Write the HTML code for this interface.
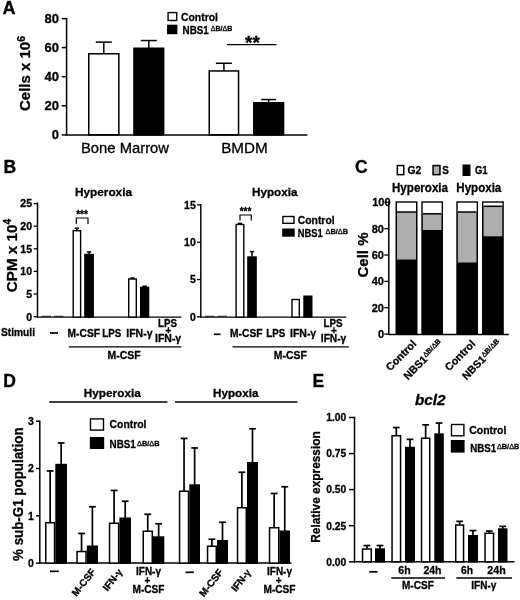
<!DOCTYPE html>
<html lang="en"><head><meta charset="utf-8"><title>Figure</title>
<style>
html,body{margin:0;padding:0;background:#fff;}
body{width:520px;height:600px;overflow:hidden;}
svg{display:block;font-family:"Liberation Sans", Arial, Helvetica, sans-serif;fill:#000;}
text{stroke:#000;stroke-width:0.3px;}
</style></head><body>
<svg width="520" height="600" viewBox="0 0 520 600">
<rect x="0" y="0" width="520" height="600" fill="#fff"/>
<text x="2.6" y="13.7" font-size="18" font-weight="bold">A</text>
<line x1="66.6" y1="17.9" x2="66.6" y2="135.6" stroke="#000" stroke-width="1.5"/>
<line x1="61.7" y1="18.6" x2="66.6" y2="18.6" stroke="#000" stroke-width="1.5"/>
<text x="59" y="23.1" font-size="13" font-weight="bold" text-anchor="end">80</text>
<line x1="61.7" y1="47.6" x2="66.6" y2="47.6" stroke="#000" stroke-width="1.5"/>
<text x="59" y="52.1" font-size="13" font-weight="bold" text-anchor="end">60</text>
<line x1="61.7" y1="76.7" x2="66.6" y2="76.7" stroke="#000" stroke-width="1.5"/>
<text x="59" y="81.2" font-size="13" font-weight="bold" text-anchor="end">40</text>
<line x1="61.7" y1="105.8" x2="66.6" y2="105.8" stroke="#000" stroke-width="1.5"/>
<text x="59" y="110.3" font-size="13" font-weight="bold" text-anchor="end">20</text>
<line x1="61.7" y1="134.9" x2="66.6" y2="134.9" stroke="#000" stroke-width="1.5"/>
<text x="59" y="139.4" font-size="13" font-weight="bold" text-anchor="end">0</text>
<text x="30.4" y="73.5" font-size="15" font-weight="bold" text-anchor="middle" transform="rotate(-90 30.4 73.5)">Cells x 10<tspan font-size="10.5" dy="-5.5">6</tspan></text>
<line x1="103.8" y1="53.5" x2="103.8" y2="42.15" stroke="#000" stroke-width="1.5"/>
<line x1="95.8" y1="42.15" x2="111.8" y2="42.15" stroke="#000" stroke-width="1.5"/>
<rect x="88.75" y="53.75" width="30.10" height="81.15" fill="#fff" stroke="#000" stroke-width="1.5"/>
<line x1="148.8" y1="48.0" x2="148.8" y2="40.55" stroke="#000" stroke-width="1.5"/>
<line x1="140.8" y1="40.55" x2="156.8" y2="40.55" stroke="#000" stroke-width="1.5"/>
<rect x="133.95" y="48.25" width="29.70" height="86.65" fill="#000" stroke="#000" stroke-width="1.5"/>
<line x1="223.9" y1="70.7" x2="223.9" y2="63.25" stroke="#000" stroke-width="1.5"/>
<line x1="215.9" y1="63.25" x2="231.9" y2="63.25" stroke="#000" stroke-width="1.5"/>
<rect x="209.25" y="70.95" width="29.30" height="63.95" fill="#fff" stroke="#000" stroke-width="1.5"/>
<line x1="268.65" y1="102.5" x2="268.65" y2="99.55" stroke="#000" stroke-width="1.5"/>
<line x1="261.15" y1="99.55" x2="276.15" y2="99.55" stroke="#000" stroke-width="1.5"/>
<rect x="253.75" y="102.75" width="29.80" height="32.15" fill="#000" stroke="#000" stroke-width="1.5"/>
<line x1="65.9" y1="134.9" x2="307.3" y2="134.9" stroke="#000" stroke-width="1.5"/>
<text x="81" y="153" font-size="14" textLength="88" lengthAdjust="spacingAndGlyphs">Bone Marrow</text>
<text x="221.2" y="153" font-size="14" textLength="46.5" lengthAdjust="spacingAndGlyphs">BMDM</text>
<line x1="227" y1="44.6" x2="276.5" y2="44.6" stroke="#000" stroke-width="1.4"/>
<text x="252.5" y="48.5" font-size="19" font-weight="bold" text-anchor="middle">**</text>
<rect x="168.10" y="12.60" width="8.60" height="7.90" fill="#fff" stroke="#000" stroke-width="1.4"/>
<rect x="167.70" y="25.40" width="9.00" height="8.10" fill="#000" stroke="#000" stroke-width="1.4"/>
<text x="181" y="21" font-size="11" font-weight="bold" textLength="37" lengthAdjust="spacingAndGlyphs">Control</text>
<text x="182.6" y="33.8" font-size="11" font-weight="bold" textLength="26.2" lengthAdjust="spacingAndGlyphs">NBS1</text>
<text x="210.8" y="31.099999999999998" font-size="7.3" font-weight="bold" textLength="21.4" lengthAdjust="spacingAndGlyphs"><tspan font-weight="normal">Δ</tspan>B/<tspan font-weight="normal">Δ</tspan>B</text>
<text x="3.6" y="172.7" font-size="17.5" font-weight="bold">B</text>
<text x="75" y="195.6" font-size="11.5" font-weight="bold" textLength="57" lengthAdjust="spacingAndGlyphs">Hyperoxia</text>
<text x="252" y="195.6" font-size="11.5" font-weight="bold" textLength="45.5" lengthAdjust="spacingAndGlyphs">Hypoxia</text>
<line x1="37.5" y1="202.5" x2="37.5" y2="317.5" stroke="#000" stroke-width="1.45"/>
<line x1="33.7" y1="203.6" x2="37.5" y2="203.6" stroke="#000" stroke-width="1.3"/>
<text x="32" y="207.29999999999998" font-size="10.5" font-weight="bold" text-anchor="end">25</text>
<line x1="33.7" y1="226.2" x2="37.5" y2="226.2" stroke="#000" stroke-width="1.3"/>
<text x="32" y="229.89999999999998" font-size="10.5" font-weight="bold" text-anchor="end">20</text>
<line x1="33.7" y1="248.8" x2="37.5" y2="248.8" stroke="#000" stroke-width="1.3"/>
<text x="32" y="252.5" font-size="10.5" font-weight="bold" text-anchor="end">15</text>
<line x1="33.7" y1="271.4" x2="37.5" y2="271.4" stroke="#000" stroke-width="1.3"/>
<text x="32" y="275.09999999999997" font-size="10.5" font-weight="bold" text-anchor="end">10</text>
<line x1="33.7" y1="294" x2="37.5" y2="294" stroke="#000" stroke-width="1.3"/>
<text x="32" y="297.7" font-size="10.5" font-weight="bold" text-anchor="end">5</text>
<line x1="33.7" y1="316.8" x2="37.5" y2="316.8" stroke="#000" stroke-width="1.3"/>
<text x="32" y="320.5" font-size="10.5" font-weight="bold" text-anchor="end">0</text>
<text x="16.6" y="255.6" font-size="15.2" font-weight="bold" text-anchor="middle" transform="rotate(-90 16.6 255.6)">CPM x 10<tspan font-size="10" dy="-5.5">4</tspan></text>
<line x1="36.8" y1="317.1" x2="181.3" y2="317.1" stroke="#000" stroke-width="1.45"/>
<line x1="76.9" y1="230.5" x2="76.9" y2="228.25" stroke="#000" stroke-width="1.5"/>
<line x1="74.7" y1="228.25" x2="79.10000000000001" y2="228.25" stroke="#000" stroke-width="1.5"/>
<rect x="73.20" y="230.70" width="7.40" height="86.40" fill="#fff" stroke="#000" stroke-width="1.4"/>
<line x1="89.05000000000001" y1="254.3" x2="89.05000000000001" y2="251.95" stroke="#000" stroke-width="1.5"/>
<line x1="86.85000000000001" y1="251.95" x2="91.25000000000001" y2="251.95" stroke="#000" stroke-width="1.5"/>
<rect x="84.90" y="254.50" width="8.30" height="62.60" fill="#000" stroke="#000" stroke-width="1.4"/>
<line x1="132.5" y1="278.8" x2="132.5" y2="278.05" stroke="#000" stroke-width="1.5"/>
<line x1="130.3" y1="278.05" x2="134.7" y2="278.05" stroke="#000" stroke-width="1.5"/>
<rect x="128.70" y="279.00" width="7.60" height="38.10" fill="#fff" stroke="#000" stroke-width="1.4"/>
<line x1="144.65" y1="287.2" x2="144.65" y2="286.25" stroke="#000" stroke-width="1.5"/>
<line x1="142.45000000000002" y1="286.25" x2="146.85" y2="286.25" stroke="#000" stroke-width="1.5"/>
<rect x="140.70" y="287.40" width="7.90" height="29.70" fill="#000" stroke="#000" stroke-width="1.4"/>
<rect x="41.5" y="315.8" width="9.5" height="0.8" fill="#000"/>
<rect x="54" y="315.8" width="9.5" height="0.8" fill="#000"/>
<rect x="205" y="315.8" width="9.5" height="0.8" fill="#000"/>
<rect x="217.5" y="315.8" width="9.5" height="0.8" fill="#000"/>
<path d="M76.3 224 V218 H88 V224" fill="none" stroke="#000" stroke-width="1.2"/>
<text x="82" y="217.7" font-size="10" font-weight="bold" text-anchor="middle">***</text>
<text x="1" y="335.8" font-size="11" font-weight="bold" textLength="34" lengthAdjust="spacingAndGlyphs">Stimuli</text>
<line x1="50" y1="333" x2="58" y2="333" stroke="#000" stroke-width="1.7"/>
<text x="67.5" y="336.6" font-size="11" font-weight="bold" textLength="32.5" lengthAdjust="spacingAndGlyphs">M-CSF</text>
<text x="102.3" y="336.6" font-size="11" font-weight="bold" textLength="19" lengthAdjust="spacingAndGlyphs">LPS</text>
<text x="126.3" y="336.6" font-size="11" font-weight="bold" textLength="26.2" lengthAdjust="spacingAndGlyphs">IFN-γ</text>
<text x="158" y="326.7" font-size="10.5" font-weight="bold" textLength="19" lengthAdjust="spacingAndGlyphs">LPS</text>
<text x="168.3" y="334.2" font-size="10" font-weight="bold" text-anchor="middle">+</text>
<text x="155" y="341.9" font-size="10.5" font-weight="bold" textLength="26.2" lengthAdjust="spacingAndGlyphs">IFN-γ</text>
<line x1="68.8" y1="346.9" x2="181.3" y2="346.9" stroke="#000" stroke-width="1.4"/>
<text x="107.5" y="358.8" font-size="11" font-weight="bold" textLength="33" lengthAdjust="spacingAndGlyphs">M-CSF</text>
<line x1="200.8" y1="203.9" x2="200.8" y2="317.5" stroke="#000" stroke-width="1.45"/>
<line x1="197" y1="204.9" x2="200.8" y2="204.9" stroke="#000" stroke-width="1.3"/>
<text x="195.8" y="208.6" font-size="10.5" font-weight="bold" text-anchor="end">15</text>
<line x1="197" y1="242.2" x2="200.8" y2="242.2" stroke="#000" stroke-width="1.3"/>
<text x="195.8" y="245.89999999999998" font-size="10.5" font-weight="bold" text-anchor="end">10</text>
<line x1="197" y1="279.5" x2="200.8" y2="279.5" stroke="#000" stroke-width="1.3"/>
<text x="195.8" y="283.2" font-size="10.5" font-weight="bold" text-anchor="end">5</text>
<line x1="197" y1="316.8" x2="200.8" y2="316.8" stroke="#000" stroke-width="1.3"/>
<text x="195.8" y="320.5" font-size="10.5" font-weight="bold" text-anchor="end">0</text>
<line x1="200.1" y1="317.1" x2="346.3" y2="317.1" stroke="#000" stroke-width="1.45"/>
<line x1="239.95" y1="224.3" x2="239.95" y2="223.35" stroke="#000" stroke-width="1.5"/>
<line x1="237.75" y1="223.35" x2="242.14999999999998" y2="223.35" stroke="#000" stroke-width="1.5"/>
<rect x="236.10" y="224.50" width="7.70" height="92.60" fill="#fff" stroke="#000" stroke-width="1.4"/>
<line x1="252.0" y1="256.8" x2="252.0" y2="251.55" stroke="#000" stroke-width="1.5"/>
<line x1="249.8" y1="251.55" x2="254.2" y2="251.55" stroke="#000" stroke-width="1.5"/>
<rect x="247.90" y="257.00" width="8.20" height="60.10" fill="#000" stroke="#000" stroke-width="1.4"/>
<rect x="292.00" y="299.50" width="7.30" height="17.60" fill="#fff" stroke="#000" stroke-width="1.4"/>
<rect x="304.00" y="296.20" width="7.80" height="20.90" fill="#000" stroke="#000" stroke-width="1.4"/>
<path d="M240 220.5 V215 H251.3 V220.5" fill="none" stroke="#000" stroke-width="1.2"/>
<text x="245.5" y="214.7" font-size="10" font-weight="bold" text-anchor="middle">***</text>
<line x1="213.8" y1="334.3" x2="220.5" y2="334.3" stroke="#000" stroke-width="1.7"/>
<text x="230" y="336.6" font-size="11" font-weight="bold" textLength="32.5" lengthAdjust="spacingAndGlyphs">M-CSF</text>
<text x="266.3" y="336.6" font-size="11" font-weight="bold" textLength="19" lengthAdjust="spacingAndGlyphs">LPS</text>
<text x="290" y="336.6" font-size="11" font-weight="bold" textLength="26.2" lengthAdjust="spacingAndGlyphs">IFN-γ</text>
<text x="323.5" y="326.7" font-size="10.5" font-weight="bold" textLength="19" lengthAdjust="spacingAndGlyphs">LPS</text>
<text x="333.8" y="334.2" font-size="10" font-weight="bold" text-anchor="middle">+</text>
<text x="320.8" y="341.9" font-size="10.5" font-weight="bold" textLength="25.5" lengthAdjust="spacingAndGlyphs">IFN-γ</text>
<line x1="232.5" y1="346.9" x2="348.8" y2="346.9" stroke="#000" stroke-width="1.4"/>
<text x="273.8" y="358.8" font-size="11" font-weight="bold" textLength="33" lengthAdjust="spacingAndGlyphs">M-CSF</text>
<rect x="282.90" y="216.50" width="11.10" height="6.80" fill="#fff" stroke="#000" stroke-width="1.4"/>
<rect x="282.90" y="229.20" width="11.10" height="6.80" fill="#000" stroke="#000" stroke-width="1.4"/>
<text x="297.8" y="223.7" font-size="11" font-weight="bold" textLength="36.8" lengthAdjust="spacingAndGlyphs">Control</text>
<text x="297.8" y="236.5" font-size="11" font-weight="bold" textLength="25" lengthAdjust="spacingAndGlyphs">NBS1</text>
<text x="325.5" y="233.8" font-size="7.3" font-weight="bold" textLength="22.6" lengthAdjust="spacingAndGlyphs"><tspan font-weight="normal">Δ</tspan>B/<tspan font-weight="normal">Δ</tspan>B</text>
<text x="355" y="172.7" font-size="17.5" font-weight="bold">C</text>
<rect x="397.35" y="165.55" width="6.40" height="9.10" fill="#fff" stroke="#000" stroke-width="1.5"/>
<text x="407.5" y="174" font-size="11" font-weight="bold" textLength="13.8" lengthAdjust="spacingAndGlyphs">G2</text>
<rect x="433.05" y="165.55" width="6.90" height="9.10" fill="#aeaeae" stroke="#000" stroke-width="1.5"/>
<text x="442.3" y="174" font-size="11" font-weight="bold" textLength="6.6" lengthAdjust="spacingAndGlyphs">S</text>
<rect x="463.10" y="165.10" width="6.80" height="10.30" fill="#000" stroke="#000" stroke-width="1.2"/>
<text x="475" y="174" font-size="11" font-weight="bold" textLength="12.6" lengthAdjust="spacingAndGlyphs">G1</text>
<text x="392" y="192.1" font-size="12.2" font-weight="bold" textLength="56" lengthAdjust="spacingAndGlyphs">Hyperoxia</text>
<text x="456.3" y="192.1" font-size="12.2" font-weight="bold" textLength="45" lengthAdjust="spacingAndGlyphs">Hypoxia</text>
<rect x="396.25" y="202.05" width="20.5" height="131.95" fill="#000" stroke="#000" stroke-width="1.5"/>
<rect x="397.0" y="202.8" width="19.0" height="56.69999999999999" fill="#aeaeae"/>
<rect x="397.0" y="202.8" width="19.0" height="9.199999999999989" fill="#fff"/>
<line x1="397.0" y1="212" x2="416.0" y2="212" stroke="#000" stroke-width="1.5"/>
<rect x="422.05" y="202.05" width="20.19999999999999" height="131.95" fill="#000" stroke="#000" stroke-width="1.5"/>
<rect x="422.8" y="202.8" width="18.69999999999999" height="27.19999999999999" fill="#aeaeae"/>
<rect x="422.8" y="202.8" width="18.69999999999999" height="11.0" fill="#fff"/>
<line x1="422.8" y1="213.8" x2="441.5" y2="213.8" stroke="#000" stroke-width="1.5"/>
<rect x="457.05" y="202.05" width="20.19999999999999" height="131.95" fill="#000" stroke="#000" stroke-width="1.5"/>
<rect x="457.8" y="202.8" width="18.69999999999999" height="59.69999999999999" fill="#aeaeae"/>
<rect x="457.8" y="202.8" width="18.69999999999999" height="9.199999999999989" fill="#fff"/>
<line x1="457.8" y1="212" x2="476.5" y2="212" stroke="#000" stroke-width="1.5"/>
<rect x="482.75" y="202.05" width="20.30000000000001" height="131.95" fill="#000" stroke="#000" stroke-width="1.5"/>
<rect x="483.5" y="202.8" width="18.80000000000001" height="33.5" fill="#aeaeae"/>
<rect x="483.5" y="202.8" width="18.80000000000001" height="3.5" fill="#fff"/>
<line x1="483.5" y1="206.3" x2="502.3" y2="206.3" stroke="#000" stroke-width="1.5"/>
<line x1="388.8" y1="201.5" x2="388.8" y2="335.1" stroke="#000" stroke-width="1.5"/>
<line x1="384.3" y1="202.3" x2="388.8" y2="202.3" stroke="#000" stroke-width="1.3"/>
<text x="390.5" y="206.20000000000002" font-size="11" font-weight="bold" text-anchor="end">100</text>
<line x1="384.3" y1="228.7" x2="388.8" y2="228.7" stroke="#000" stroke-width="1.3"/>
<text x="384" y="232.6" font-size="11" font-weight="bold" text-anchor="end">80</text>
<line x1="384.3" y1="255" x2="388.8" y2="255" stroke="#000" stroke-width="1.3"/>
<text x="384" y="258.9" font-size="11" font-weight="bold" text-anchor="end">60</text>
<line x1="384.3" y1="281.4" x2="388.8" y2="281.4" stroke="#000" stroke-width="1.3"/>
<text x="384" y="285.29999999999995" font-size="11" font-weight="bold" text-anchor="end">40</text>
<line x1="384.3" y1="307.7" x2="388.8" y2="307.7" stroke="#000" stroke-width="1.3"/>
<text x="384" y="311.59999999999997" font-size="11" font-weight="bold" text-anchor="end">20</text>
<line x1="384.3" y1="334.1" x2="388.8" y2="334.1" stroke="#000" stroke-width="1.3"/>
<text x="384" y="338.0" font-size="11" font-weight="bold" text-anchor="end">0</text>
<line x1="388.2" y1="334.4" x2="508.8" y2="334.4" stroke="#000" stroke-width="1.5"/>
<text x="368.4" y="255" font-size="15" font-weight="bold" text-anchor="middle" textLength="45" lengthAdjust="spacingAndGlyphs" transform="rotate(-90 368.4 255)">Cell %</text>
<text x="417" y="344.5" font-size="10.7" font-weight="bold" text-anchor="end" transform="rotate(-45.5 417 344.5)">Control</text>
<text x="443.6" y="344.1" font-size="10.7" font-weight="bold" text-anchor="end" transform="rotate(-45.5 443.6 344.1)">NBS1<tspan font-size="7.3" dy="-3.2"><tspan font-weight="normal">Δ</tspan>B/<tspan font-weight="normal">Δ</tspan>B</tspan></text>
<text x="476" y="344.5" font-size="10.7" font-weight="bold" text-anchor="end" transform="rotate(-45.5 476 344.5)">Control</text>
<text x="502.1" y="344.1" font-size="10.7" font-weight="bold" text-anchor="end" transform="rotate(-45.5 502.1 344.1)">NBS1<tspan font-size="7.3" dy="-3.2"><tspan font-weight="normal">Δ</tspan>B/<tspan font-weight="normal">Δ</tspan>B</tspan></text>
<text x="3.2" y="386.5" font-size="17.5" font-weight="bold">D</text>
<text x="83.8" y="397" font-size="11.5" font-weight="bold" textLength="57" lengthAdjust="spacingAndGlyphs">Hyperoxia</text>
<text x="213" y="397" font-size="11.5" font-weight="bold" textLength="45.5" lengthAdjust="spacingAndGlyphs">Hypoxia</text>
<line x1="49.3" y1="402" x2="167.5" y2="402" stroke="#000" stroke-width="1.5"/>
<line x1="175" y1="402" x2="297.5" y2="402" stroke="#000" stroke-width="1.5"/>
<line x1="39.8" y1="420.5" x2="39.8" y2="563.9" stroke="#000" stroke-width="1.5"/>
<line x1="36" y1="421.2" x2="39.8" y2="421.2" stroke="#000" stroke-width="1.5"/>
<text x="33.8" y="425.0" font-size="10.5" font-weight="bold" text-anchor="end">3</text>
<line x1="36" y1="468.5" x2="39.8" y2="468.5" stroke="#000" stroke-width="1.5"/>
<text x="33.8" y="472.3" font-size="10.5" font-weight="bold" text-anchor="end">2</text>
<line x1="36" y1="515.8" x2="39.8" y2="515.8" stroke="#000" stroke-width="1.5"/>
<text x="33.8" y="519.5999999999999" font-size="10.5" font-weight="bold" text-anchor="end">1</text>
<line x1="36" y1="563.1" x2="39.8" y2="563.1" stroke="#000" stroke-width="1.5"/>
<text x="33.8" y="566.9" font-size="10.5" font-weight="bold" text-anchor="end">0</text>
<line x1="39.1" y1="563.1" x2="291.5" y2="563.1" stroke="#000" stroke-width="1.5"/>
<text x="22.9" y="494.2" font-size="14.5" font-weight="bold" text-anchor="middle" textLength="133.5" lengthAdjust="spacingAndGlyphs" transform="rotate(-90 22.9 494.2)">% sub-G1 population</text>
<line x1="50.15" y1="522.5" x2="50.15" y2="470.95000000000005" stroke="#000" stroke-width="1.7"/>
<line x1="46.75" y1="470.95000000000005" x2="53.55" y2="470.95000000000005" stroke="#000" stroke-width="1.7"/>
<rect x="45.75" y="522.75" width="8.80" height="40.35" fill="#fff" stroke="#000" stroke-width="1.5"/>
<line x1="61.15" y1="464.3" x2="61.15" y2="442.95000000000005" stroke="#000" stroke-width="1.7"/>
<line x1="57.75" y1="442.95000000000005" x2="64.55" y2="442.95000000000005" stroke="#000" stroke-width="1.7"/>
<rect x="56.05" y="464.55" width="10.20" height="98.55" fill="#000" stroke="#000" stroke-width="1.5"/>
<line x1="81.55" y1="551.3" x2="81.55" y2="533.45" stroke="#000" stroke-width="1.7"/>
<line x1="78.14999999999999" y1="533.45" x2="84.95" y2="533.45" stroke="#000" stroke-width="1.7"/>
<rect x="77.05" y="551.55" width="9.00" height="11.55" fill="#fff" stroke="#000" stroke-width="1.5"/>
<line x1="92.4" y1="546.0" x2="92.4" y2="506.75000000000006" stroke="#000" stroke-width="1.7"/>
<line x1="89.0" y1="506.75000000000006" x2="95.80000000000001" y2="506.75000000000006" stroke="#000" stroke-width="1.7"/>
<rect x="87.55" y="546.25" width="9.70" height="16.85" fill="#000" stroke="#000" stroke-width="1.5"/>
<line x1="114.1" y1="523.0" x2="114.1" y2="490.45000000000005" stroke="#000" stroke-width="1.7"/>
<line x1="110.69999999999999" y1="490.45000000000005" x2="117.5" y2="490.45000000000005" stroke="#000" stroke-width="1.7"/>
<rect x="109.55" y="523.25" width="9.10" height="39.85" fill="#fff" stroke="#000" stroke-width="1.5"/>
<line x1="125.2" y1="518.0" x2="125.2" y2="501.25000000000006" stroke="#000" stroke-width="1.7"/>
<line x1="121.8" y1="501.25000000000006" x2="128.6" y2="501.25000000000006" stroke="#000" stroke-width="1.7"/>
<rect x="120.15" y="518.25" width="10.10" height="44.85" fill="#000" stroke="#000" stroke-width="1.5"/>
<line x1="147.75" y1="531.0" x2="147.75" y2="514.25" stroke="#000" stroke-width="1.7"/>
<line x1="144.35" y1="514.25" x2="151.15" y2="514.25" stroke="#000" stroke-width="1.7"/>
<rect x="143.25" y="531.25" width="9.00" height="31.85" fill="#fff" stroke="#000" stroke-width="1.5"/>
<line x1="158.65" y1="536.8" x2="158.65" y2="523.75" stroke="#000" stroke-width="1.7"/>
<line x1="155.25" y1="523.75" x2="162.05" y2="523.75" stroke="#000" stroke-width="1.7"/>
<rect x="153.75" y="537.05" width="9.80" height="26.05" fill="#000" stroke="#000" stroke-width="1.5"/>
<line x1="184.05" y1="491.0" x2="184.05" y2="438.45000000000005" stroke="#000" stroke-width="1.7"/>
<line x1="180.65" y1="438.45000000000005" x2="187.45000000000002" y2="438.45000000000005" stroke="#000" stroke-width="1.7"/>
<rect x="179.55" y="491.25" width="9.00" height="71.85" fill="#fff" stroke="#000" stroke-width="1.5"/>
<line x1="194.65" y1="484.8" x2="194.65" y2="447.95000000000005" stroke="#000" stroke-width="1.7"/>
<line x1="191.25" y1="447.95000000000005" x2="198.05" y2="447.95000000000005" stroke="#000" stroke-width="1.7"/>
<rect x="190.05" y="485.05" width="9.20" height="78.05" fill="#000" stroke="#000" stroke-width="1.5"/>
<line x1="211.9" y1="546.0" x2="211.9" y2="539.25" stroke="#000" stroke-width="1.7"/>
<line x1="208.5" y1="539.25" x2="215.3" y2="539.25" stroke="#000" stroke-width="1.7"/>
<rect x="207.55" y="546.25" width="8.70" height="16.85" fill="#fff" stroke="#000" stroke-width="1.5"/>
<line x1="222.5" y1="540.5" x2="222.5" y2="522.25" stroke="#000" stroke-width="1.7"/>
<line x1="219.1" y1="522.25" x2="225.9" y2="522.25" stroke="#000" stroke-width="1.7"/>
<rect x="217.75" y="540.75" width="9.50" height="22.35" fill="#000" stroke="#000" stroke-width="1.5"/>
<line x1="241.9" y1="507.5" x2="241.9" y2="472.25000000000006" stroke="#000" stroke-width="1.7"/>
<line x1="238.5" y1="472.25000000000006" x2="245.3" y2="472.25000000000006" stroke="#000" stroke-width="1.7"/>
<rect x="237.55" y="507.75" width="8.70" height="55.35" fill="#fff" stroke="#000" stroke-width="1.5"/>
<line x1="252.5" y1="462.5" x2="252.5" y2="428.75000000000006" stroke="#000" stroke-width="1.7"/>
<line x1="249.1" y1="428.75000000000006" x2="255.9" y2="428.75000000000006" stroke="#000" stroke-width="1.7"/>
<rect x="247.75" y="462.75" width="9.50" height="100.35" fill="#000" stroke="#000" stroke-width="1.5"/>
<line x1="274.15" y1="527.5" x2="274.15" y2="493.45000000000005" stroke="#000" stroke-width="1.7"/>
<line x1="270.75" y1="493.45000000000005" x2="277.54999999999995" y2="493.45000000000005" stroke="#000" stroke-width="1.7"/>
<rect x="269.55" y="527.75" width="9.20" height="35.35" fill="#fff" stroke="#000" stroke-width="1.5"/>
<line x1="284.75" y1="531.0" x2="284.75" y2="486.75000000000006" stroke="#000" stroke-width="1.7"/>
<line x1="281.35" y1="486.75000000000006" x2="288.15" y2="486.75000000000006" stroke="#000" stroke-width="1.7"/>
<rect x="280.25" y="531.25" width="9.00" height="31.85" fill="#000" stroke="#000" stroke-width="1.5"/>
<rect x="90.50" y="418.90" width="13.00" height="11.20" fill="#fff" stroke="#000" stroke-width="1.4"/>
<rect x="90.50" y="437.70" width="13.00" height="10.60" fill="#000" stroke="#000" stroke-width="1.4"/>
<text x="109.6" y="428.1" font-size="11" font-weight="bold" textLength="36.8" lengthAdjust="spacingAndGlyphs">Control</text>
<text x="109.6" y="448.4" font-size="11" font-weight="bold" textLength="26.2" lengthAdjust="spacingAndGlyphs">NBS1</text>
<text x="137" y="445.7" font-size="7.3" font-weight="bold" textLength="22.6" lengthAdjust="spacingAndGlyphs"><tspan font-weight="normal">Δ</tspan>B/<tspan font-weight="normal">Δ</tspan>B</text>
<line x1="50" y1="571.3" x2="58.8" y2="571.3" stroke="#000" stroke-width="1.7"/>
<line x1="185.5" y1="572.3" x2="193.8" y2="572.3" stroke="#000" stroke-width="1.7"/>
<text x="96" y="572" font-size="10" font-weight="bold" text-anchor="end" transform="rotate(-52 96 572)">M-CSF</text>
<text x="123" y="572" font-size="10" font-weight="bold" text-anchor="end" transform="rotate(-52 123 572)">IFN-γ</text>
<text x="223.5" y="572.5" font-size="10" font-weight="bold" text-anchor="end" transform="rotate(-52 223.5 572.5)">M-CSF</text>
<text x="251.5" y="572.5" font-size="10" font-weight="bold" text-anchor="end" transform="rotate(-52 251.5 572.5)">IFN-γ</text>
<text x="136" y="575.2" font-size="10.5" font-weight="bold" textLength="25" lengthAdjust="spacingAndGlyphs">IFN-γ</text>
<text x="147.5" y="584" font-size="10" font-weight="bold" text-anchor="middle">+</text>
<text x="132.5" y="593" font-size="10.5" font-weight="bold" textLength="32" lengthAdjust="spacingAndGlyphs">M-CSF</text>
<text x="267" y="575.2" font-size="10.5" font-weight="bold" textLength="25" lengthAdjust="spacingAndGlyphs">IFN-γ</text>
<text x="278.7" y="584" font-size="10" font-weight="bold" text-anchor="middle">+</text>
<text x="263.5" y="593" font-size="10.5" font-weight="bold" textLength="32" lengthAdjust="spacingAndGlyphs">M-CSF</text>
<text x="312.6" y="386.5" font-size="17.5" font-weight="bold">E</text>
<text x="415" y="405" font-size="14" font-weight="bold" font-style="italic" textLength="30.5" lengthAdjust="spacingAndGlyphs">bcl2</text>
<line x1="354.5" y1="416.8" x2="354.5" y2="562.6" stroke="#000" stroke-width="1.5"/>
<line x1="349" y1="417.5" x2="354.5" y2="417.5" stroke="#000" stroke-width="1.5"/>
<text x="346.3" y="421.3" font-size="10.5" font-weight="bold" text-anchor="end" textLength="20" lengthAdjust="spacingAndGlyphs">1.00</text>
<line x1="349" y1="453.6" x2="354.5" y2="453.6" stroke="#000" stroke-width="1.5"/>
<text x="346.3" y="457.40000000000003" font-size="10.5" font-weight="bold" text-anchor="end" textLength="20" lengthAdjust="spacingAndGlyphs">0.75</text>
<line x1="349" y1="489.6" x2="354.5" y2="489.6" stroke="#000" stroke-width="1.5"/>
<text x="346.3" y="493.40000000000003" font-size="10.5" font-weight="bold" text-anchor="end" textLength="20" lengthAdjust="spacingAndGlyphs">0.50</text>
<line x1="349" y1="525.7" x2="354.5" y2="525.7" stroke="#000" stroke-width="1.5"/>
<text x="346.3" y="529.5" font-size="10.5" font-weight="bold" text-anchor="end" textLength="20" lengthAdjust="spacingAndGlyphs">0.25</text>
<line x1="349" y1="561.8" x2="354.5" y2="561.8" stroke="#000" stroke-width="1.5"/>
<text x="346.3" y="565.5999999999999" font-size="10.5" font-weight="bold" text-anchor="end" textLength="20" lengthAdjust="spacingAndGlyphs">0.00</text>
<line x1="353.8" y1="561.8" x2="514.5" y2="561.8" stroke="#000" stroke-width="1.5"/>
<text x="319.5" y="487" font-size="12" font-weight="bold" text-anchor="middle" textLength="111.5" lengthAdjust="spacingAndGlyphs" transform="rotate(-90 319.5 487)">Relative expression</text>
<line x1="366.9" y1="548.8" x2="366.9" y2="545.5500000000001" stroke="#000" stroke-width="1.7"/>
<line x1="363.5" y1="545.5500000000001" x2="370.29999999999995" y2="545.5500000000001" stroke="#000" stroke-width="1.7"/>
<rect x="362.55" y="549.05" width="8.70" height="12.75" fill="#fff" stroke="#000" stroke-width="1.5"/>
<line x1="380.0" y1="548.8" x2="380.0" y2="545.5500000000001" stroke="#000" stroke-width="1.7"/>
<line x1="376.6" y1="545.5500000000001" x2="383.4" y2="545.5500000000001" stroke="#000" stroke-width="1.7"/>
<rect x="375.75" y="549.05" width="8.50" height="12.75" fill="#000" stroke="#000" stroke-width="1.5"/>
<line x1="396.3" y1="435.5" x2="396.3" y2="427.55" stroke="#000" stroke-width="1.7"/>
<line x1="392.90000000000003" y1="427.55" x2="399.7" y2="427.55" stroke="#000" stroke-width="1.7"/>
<rect x="392.05" y="435.75" width="8.50" height="126.05" fill="#fff" stroke="#000" stroke-width="1.5"/>
<line x1="410.0" y1="447.3" x2="410.0" y2="439.35" stroke="#000" stroke-width="1.7"/>
<line x1="406.6" y1="439.35" x2="413.4" y2="439.35" stroke="#000" stroke-width="1.7"/>
<rect x="405.75" y="447.55" width="8.50" height="114.25" fill="#000" stroke="#000" stroke-width="1.5"/>
<line x1="425.65" y1="438.0" x2="425.65" y2="424.85" stroke="#000" stroke-width="1.7"/>
<line x1="422.25" y1="424.85" x2="429.04999999999995" y2="424.85" stroke="#000" stroke-width="1.7"/>
<rect x="421.55" y="438.25" width="8.20" height="123.55" fill="#fff" stroke="#000" stroke-width="1.5"/>
<line x1="439.05" y1="433.8" x2="439.05" y2="423.05" stroke="#000" stroke-width="1.7"/>
<line x1="435.65000000000003" y1="423.05" x2="442.45" y2="423.05" stroke="#000" stroke-width="1.7"/>
<rect x="435.05" y="434.05" width="8.00" height="127.75" fill="#000" stroke="#000" stroke-width="1.5"/>
<line x1="459.65" y1="524.8" x2="459.65" y2="521.35" stroke="#000" stroke-width="1.7"/>
<line x1="456.25" y1="521.35" x2="463.04999999999995" y2="521.35" stroke="#000" stroke-width="1.7"/>
<rect x="455.75" y="525.05" width="7.80" height="36.75" fill="#fff" stroke="#000" stroke-width="1.5"/>
<line x1="473.0" y1="535.5" x2="473.0" y2="530.5500000000001" stroke="#000" stroke-width="1.7"/>
<line x1="469.6" y1="530.5500000000001" x2="476.4" y2="530.5500000000001" stroke="#000" stroke-width="1.7"/>
<rect x="468.75" y="535.75" width="8.50" height="26.05" fill="#000" stroke="#000" stroke-width="1.5"/>
<line x1="489.3" y1="533.0" x2="489.3" y2="531.0500000000001" stroke="#000" stroke-width="1.7"/>
<line x1="485.90000000000003" y1="531.0500000000001" x2="492.7" y2="531.0500000000001" stroke="#000" stroke-width="1.7"/>
<rect x="485.05" y="533.25" width="8.50" height="28.55" fill="#fff" stroke="#000" stroke-width="1.5"/>
<line x1="502.75" y1="528.8" x2="502.75" y2="526.35" stroke="#000" stroke-width="1.7"/>
<line x1="499.35" y1="526.35" x2="506.15" y2="526.35" stroke="#000" stroke-width="1.7"/>
<rect x="498.75" y="529.05" width="8.00" height="32.75" fill="#000" stroke="#000" stroke-width="1.5"/>
<rect x="451.50" y="424.50" width="12.40" height="11.30" fill="#fff" stroke="#000" stroke-width="1.4"/>
<rect x="451.50" y="440.70" width="12.40" height="11.20" fill="#000" stroke="#000" stroke-width="1.4"/>
<text x="469.2" y="433.5" font-size="11.5" font-weight="bold" textLength="37.2" lengthAdjust="spacingAndGlyphs">Control</text>
<text x="470.3" y="451.8" font-size="11.5" font-weight="bold" textLength="26" lengthAdjust="spacingAndGlyphs">NBS1</text>
<text x="497" y="449.1" font-size="7.3" font-weight="bold" textLength="22.3" lengthAdjust="spacingAndGlyphs"><tspan font-weight="normal">Δ</tspan>B/<tspan font-weight="normal">Δ</tspan>B</text>
<line x1="369.3" y1="571.8" x2="377.5" y2="571.8" stroke="#000" stroke-width="1.7"/>
<text x="398.3" y="574.4" font-size="11.5" font-weight="bold" textLength="12.3" lengthAdjust="spacingAndGlyphs">6h</text>
<text x="423.5" y="574.4" font-size="11.5" font-weight="bold" textLength="18" lengthAdjust="spacingAndGlyphs">24h</text>
<text x="461" y="574.4" font-size="11.5" font-weight="bold" textLength="12" lengthAdjust="spacingAndGlyphs">6h</text>
<text x="487.3" y="574.4" font-size="11.5" font-weight="bold" textLength="18.4" lengthAdjust="spacingAndGlyphs">24h</text>
<line x1="391.3" y1="578" x2="445" y2="578" stroke="#000" stroke-width="1.4"/>
<line x1="456.3" y1="578" x2="512" y2="578" stroke="#000" stroke-width="1.4"/>
<text x="402" y="589.3" font-size="11" font-weight="bold" textLength="31.8" lengthAdjust="spacingAndGlyphs">M-CSF</text>
<text x="471.3" y="589.3" font-size="11" font-weight="bold" textLength="25" lengthAdjust="spacingAndGlyphs">IFN-γ</text>
</svg>
</body></html>
